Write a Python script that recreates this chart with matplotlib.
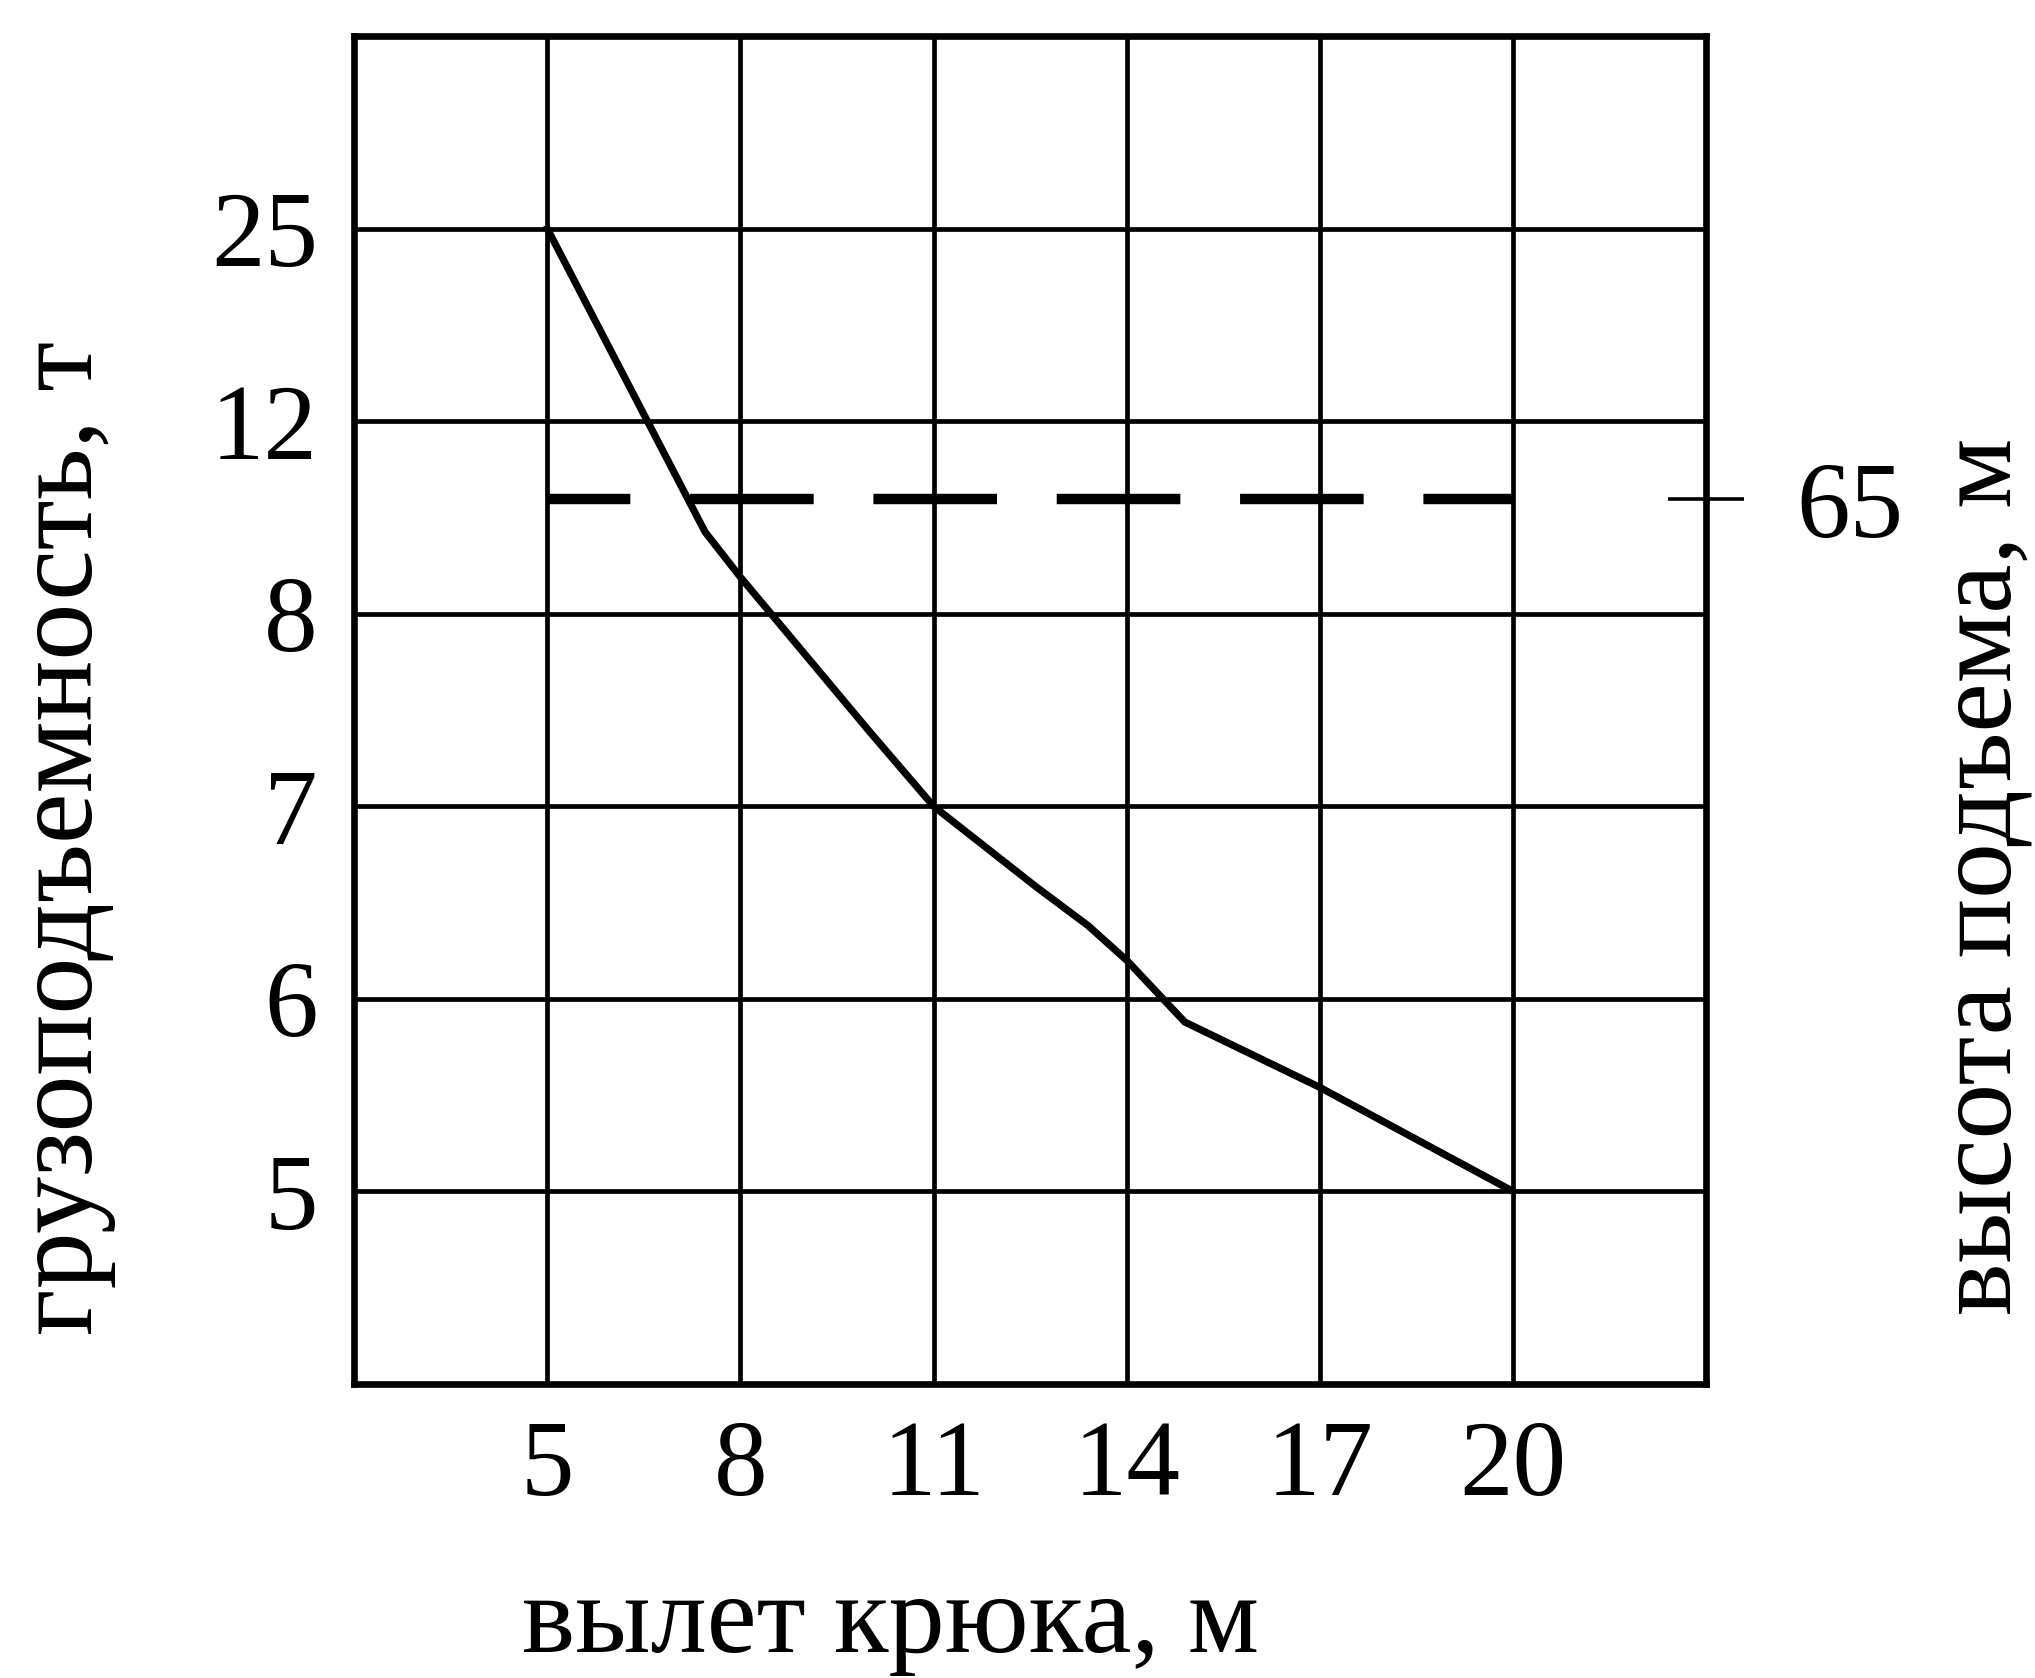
import numpy as np
import matplotlib
matplotlib.use("Agg")
import matplotlib.pyplot as plt

plt.rcParams["font.family"] = ["Liberation Serif", "DejaVu Serif"]
plt.rcParams["lines.scale_dashes"] = False

# hook reach, m
reach_ticks = [5, 8, 11, 14, 17, 20]
# load capacity scale (non-linear, one grid row per value), t
capacity_ticks = [5, 6, 7, 8, 12, 25]

# load chart
reach = [5, 7.45, 8.0, 8.5, 9.2, 10.0, 11, 11.8, 12.6, 13.4, 14, 14.9, 17, 20]
capacity = [25, 9.7, 8.76, 7.99, 7.71, 7.39, 7.0, 6.79, 6.58, 6.38, 6.2, 5.88, 5.54, 5.0]

# lifting height
lift_height = 65
lift_reach = [5, 20]
height_axis_max = 99


def cap_to_row(v):
    return np.interp(v, capacity_ticks, np.arange(1, len(capacity_ticks) + 1))


fig = plt.figure(figsize=(20.35, 16.78), dpi=100)
ax = fig.add_axes([0.174, 0.1752, 0.6645, 0.8033])

ax.set_xlim(2, 23)
ax.set_ylim(0, 7)
ax.set_xticks(reach_ticks)
ax.set_xticklabels([str(v) for v in reach_ticks])
rows = cap_to_row(capacity_ticks)
ax.set_yticks(rows)
ax.set_yticklabels([str(v) for v in capacity_ticks])
ax.tick_params(axis="both", length=0, labelsize=77)
ax.tick_params(axis="x", pad=26)
ax.tick_params(axis="y", pad=26)
ax.grid(True, color="black", linewidth=3.4)
ax.set_axisbelow(True)
for s in ax.spines.values():
    s.set_linewidth(4.8)

ax.plot(reach, cap_to_row(capacity), color="black", linewidth=5.2,
        solid_joinstyle="round", zorder=3)

ax.set_xlabel("вылет крюка, м", fontsize=81, va="baseline")
ax.xaxis.set_label_coords(0.397, -0.199)
ax.set_ylabel("грузоподъемность, т", fontsize=82, va="center")
ax.yaxis.set_label_coords(-0.214, 0.405)

ax2 = ax.twinx()
ax2.set_ylim(0, height_axis_max)
ax2.set_yticks([lift_height])
ax2.set_yticklabels([str(lift_height)])
ax2.tick_params(axis="y", direction="inout", length=55, width=2.6,
                labelsize=77, pad=37)
for s in ax2.spines.values():
    s.set_visible(False)
ax2.plot(lift_reach, [lift_height, lift_height], color="black", linewidth=7.5,
         linestyle=(29, (89, 43)), dash_capstyle="butt", zorder=3)
ax2.set_ylabel("высота подъема, м", fontsize=80, rotation=90, va="center")
ax2.yaxis.set_label_coords(1.205, 0.377)

fig.savefig("out.png", dpi=100)
